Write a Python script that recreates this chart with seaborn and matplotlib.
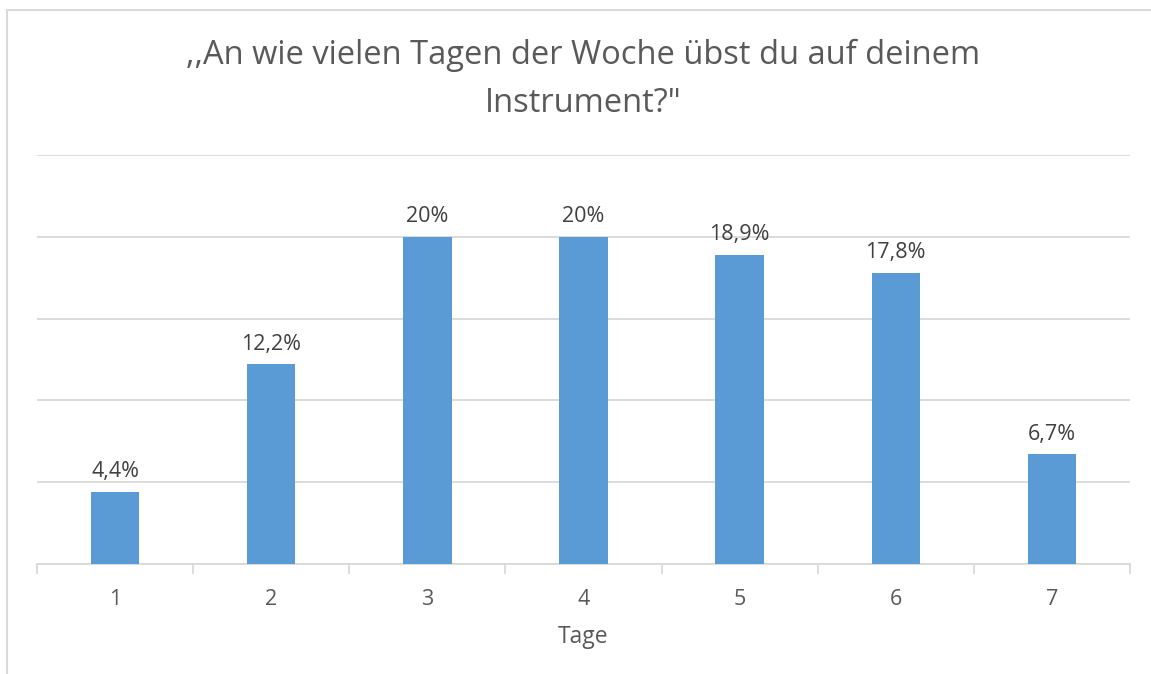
import matplotlib
matplotlib.use("Agg")
import matplotlib.pyplot as plt
import seaborn as sns
import pandas as pd
from matplotlib.lines import Line2D

categories = ["1", "2", "3", "4", "5", "6", "7"]
values = [4.4, 12.2, 20.0, 20.0, 18.9, 17.8, 6.7]
labels = ["4,4%", "12,2%", "20%", "20%", "18,9%", "17,8%", "6,7%"]
title = ',,An wie vielen Tagen der Woche übst du auf deinem\nInstrument?"'
xlabel = "Tage"

sns.set_theme(style="white")
plt.rcParams['font.family'] = ['Open Sans', 'DejaVu Sans']

W, H = 1151, 674
fig = plt.figure(figsize=(W / 100, H / 100), dpi=100)
ax = fig.add_axes([37 / W, 1 - 564 / H, (1130 - 37) / W, (564 - 155) / H])

df = pd.DataFrame({"Tage": categories, "Wert": values})
sns.barplot(data=df, x="Tage", y="Wert", color="#5B9BD5", width=0.31,
            saturation=1, ax=ax, zorder=3, linewidth=0)

ax.set_ylim(0, 25)
ax.set_xlim(-0.5, 6.5)
ax.set_yticks([0, 5, 10, 15, 20, 25])
ax.yaxis.grid(True, color="#D9D9D9", linewidth=1.3, zorder=0)
ax.set_yticklabels([])
ax.tick_params(axis="y", length=0)
for s in ["top", "right", "left"]:
    ax.spines[s].set_visible(False)
ax.spines["bottom"].set_color("#D9D9D9")
ax.spines["bottom"].set_linewidth(1.3)

ax.set_xticks(range(len(categories)))
ax.set_xticklabels(categories, fontsize=15.5, color="#595959")
ax.tick_params(axis="x", which="major", length=0, pad=18)
ax.set_xticks([i - 0.5 for i in range(len(categories) + 1)], minor=True)
ax.tick_params(axis="x", which="minor", bottom=True, length=7, width=1.3,
               color="#D9D9D9", direction="out")

for i, (v, lab) in enumerate(zip(values, labels)):
    ax.annotate(lab, (i, v), xytext=(0, 7), textcoords="offset points",
                ha="center", va="bottom", fontsize=15.5, color="#404040")

ax.set_xlabel(xlabel, fontsize=16.5, color="#595959", labelpad=11)
ax.set_ylabel("")

fig.text((37 + 1130) / 2 / W, 1 - 79 / H, title, ha="center", va="center",
         fontsize=23.5, color="#595959", linespacing=1.6)

fig.add_artist(Line2D([7 / W, 7 / W], [0, 1 - 10 / H], color="#D9D9D9", linewidth=1.5))
fig.add_artist(Line2D([7 / W, 1], [1 - 10 / H, 1 - 10 / H], color="#D9D9D9", linewidth=1.5))

fig.savefig("out.png", dpi=100, facecolor="white")
